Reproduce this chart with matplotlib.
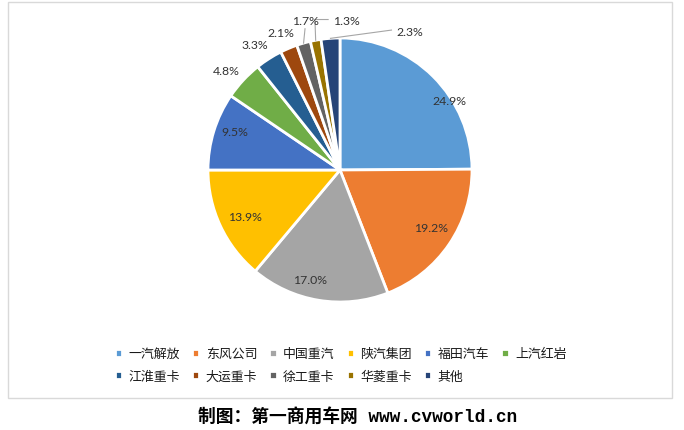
import matplotlib
matplotlib.use("Agg")
import matplotlib.pyplot as plt
from matplotlib.patches import Rectangle
import numpy as np

# ---- data ----
brands = ["一汽解放", "东风公司", "中国重汽", "陕汽集团", "福田汽车", "上汽红岩",
          "江淮重卡", "大运重卡", "徐工重卡", "华菱重卡", "其他"]
shares = [24.9, 19.2, 17.0, 13.9, 9.5, 4.8, 3.3, 2.1, 1.7, 1.3, 2.3]
pct_labels = [f"{v:.1f}%" for v in shares]

# ---- style ----
colors = ["#5B9BD5", "#ED7D31", "#A5A5A5", "#FFC000", "#4472C4", "#70AD47",
          "#255E91", "#9E480E", "#636363", "#997300", "#264478"]
# label anchor positions (in pie-radius units, relative to pie centre)
label_pos = [(0.826, 0.523), (0.689, -0.439), (-0.227, -0.826), (-0.72, -0.35),
             (-0.80, 0.29), (-0.864, 0.75), (-0.644, 0.947), (-0.447, 1.038),
             (-0.265, 1.136), (0.045, 1.136), (0.530, 1.053)]
leader = {8: [(-0.265, 1.07)], 9: [(-0.19, 1.14), (-0.09, 1.14)], 10: [(0.39, 1.06)]}

W, H = 684, 431
CX, CY, R = 340, 171, 132
fig = plt.figure(figsize=(W / 100, H / 100), dpi=100)
ax = fig.add_axes([0, 0, 1, 1])

fam = ["Lato", "Noto Sans CJK SC", "DejaVu Sans"]

wedges, _ = ax.pie(shares, colors=colors, startangle=90, counterclock=False,
                   radius=1.0, wedgeprops=dict(edgecolor="white", linewidth=2.0))
ax.set_xlim(-CX / R, (W - CX) / R)
ax.set_ylim(-(H - CY) / R, CY / R)
ax.set_aspect("equal")
ax.axis("off")

for i, (w, lab) in enumerate(zip(wedges, pct_labels)):
    x, y = label_pos[i]
    ax.text(x, y, lab, ha="center", va="center", fontsize=8.8, color="#333333",
            family=fam)
    if i in leader:
        mid = np.deg2rad((w.theta1 + w.theta2) / 2)
        pts = [(np.cos(mid), np.sin(mid))] + leader[i]
        xs, ys = zip(*pts)
        ax.plot(xs, ys, color="#A6A6A6", lw=0.8, clip_on=False)

# legend in row-major order (matplotlib fills columns first)
order = [0, 6, 1, 7, 2, 8, 3, 9, 4, 10, 5]
leg = fig.legend([wedges[k] for k in order], [brands[k] for k in order], ncol=6,
                 loc="center", bbox_to_anchor=(0.498, 0.152),
                 frameon=False, prop=dict(family=fam, size=9.3),
                 handlelength=0.55, handleheight=0.55, handletextpad=0.5,
                 columnspacing=0.95, labelspacing=0.8, borderpad=0)
for t in leg.get_texts():
    t.set_color("#1a1a1a")

# chart border
fig.add_artist(Rectangle((8 / W, 1 - 399 / H), 664 / W, 396 / H, transform=fig.transFigure,
                         fill=False, edgecolor="#D9D9D9", lw=1.0))

fig.text(358 / W, 1 - 418 / H, "制图：第一商用车网 www.cvworld.cn", ha="center", va="center",
         fontsize=12.8, fontweight="bold", family=["Liberation Mono", "Noto Sans CJK SC"],
         color="black")

fig.savefig("out.png", dpi=100)
